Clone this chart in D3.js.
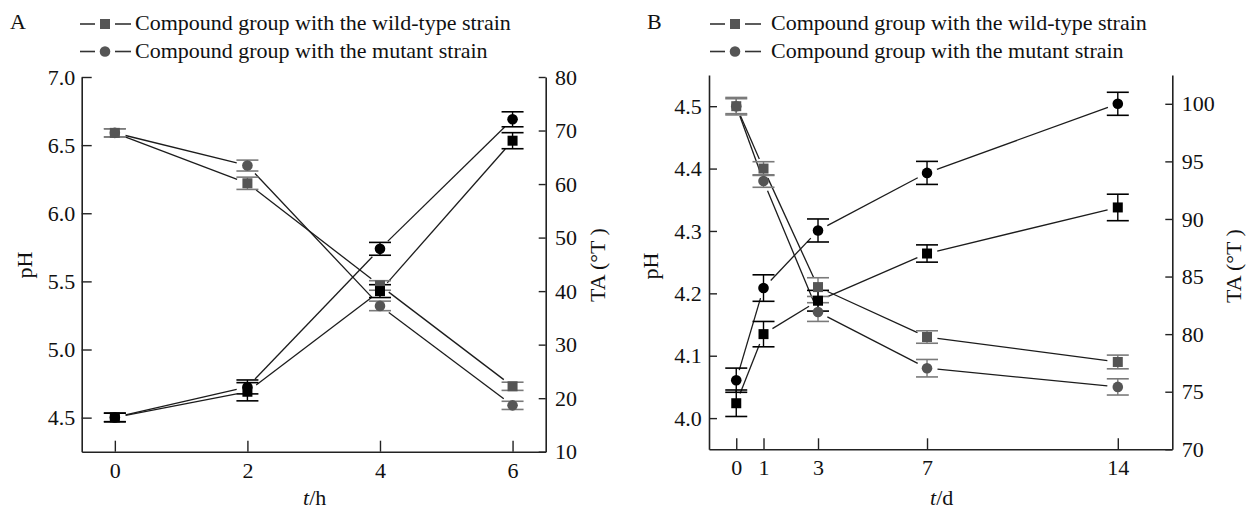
<!DOCTYPE html>
<html>
<head>
<meta charset="utf-8">
<script src="https://cdn.jsdelivr.net/npm/d3@7"></script>
<style>
  html, body { margin: 0; padding: 0; background: #fff; }
  svg { display: block; }
  text { font-family: "Liberation Serif", "Times New Roman", serif; fill: #111; }
</style>
</head>
<body>
<svg id="chart" width="1255" height="509"></svg>
<script>
// ---------- Data ----------
// Panel A: time in hours
const timesA = [0, 2, 4, 6];
const xTicksA = [0, 2, 4, 6];
const phTicksA = [4.5, 5.0, 5.5, 6.0, 6.5, 7.0];
const taTicksA = [10, 20, 30, 40, 50, 60, 70, 80];
const phWildA = [6.59, 6.22, 5.47, 4.73];
const phWildAErr = [0.03, 0.045, 0.035, 0.03];
const phMutA = [6.59, 6.35, 5.32, 4.59];
const phMutAErr = [0.03, 0.04, 0.035, 0.03];
const taWildA = [16.4, 21.2, 40.0, 68.1];
const taWildAErr = [0.8, 1.7, 1.2, 1.5];
const taMutA = [16.4, 22.1, 47.9, 72.1];
const taMutAErr = [0.8, 1.3, 1.2, 1.4];

// Panel B: time in days
const daysB = [0, 1, 3, 7, 14];
const xTicksB = [0, 1, 3, 7, 14];
const phTicksB = [4.0, 4.1, 4.2, 4.3, 4.4, 4.5];
const taTicksB = [70, 75, 80, 85, 90, 95, 100];
const phWildB = [4.50, 4.40, 4.21, 4.13, 4.09];
const phWildBErr = [0.014, 0.011, 0.015, 0.01, 0.011];
const phMutB = [4.50, 4.38, 4.17, 4.08, 4.05];
const phMutBErr = [0.012, 0.01, 0.015, 0.014, 0.013];
const taWildB = [74.0, 80.0, 82.9, 87.0, 91.0];
const taWildBErr = [1.15, 1.1, 0.9, 0.75, 1.15];
const taMutB = [76.0, 84.0, 89.0, 94.0, 100.0];
const taMutBErr = [1.05, 1.15, 1.0, 1.0, 1.0];

const legendLabels = ["Compound group with the wild-type strain", "Compound group with the mutant strain"];

// ---------- Styles ----------
const GRAY = "#555555";
const GRAY_ERR = "#7a7a7a";
const BLACK = "#000000";
const LINE = "#1c1c1c";
const AXIS = "#222222";
const FS = 22;

const svg = d3.select("#chart");
svg.append("rect").attr("width", 1255).attr("height", 509).attr("fill", "#fff");

function shortSeg(p, q, g) {
  const dx = q[0] - p[0], dy = q[1] - p[1];
  const L = Math.hypot(dx, dy);
  if (L <= 2 * g) return null;
  const ux = dx / L, uy = dy / L;
  return [[p[0] + ux * g, p[1] + uy * g], [q[0] - ux * g, q[1] - uy * g]];
}

function drawMarker(g, shape, cx, cy, color) {
  if (shape === "square") {
    g.append("rect").attr("x", cx - 5).attr("y", cy - 5).attr("width", 10).attr("height", 10).attr("fill", color);
  } else {
    g.append("circle").attr("cx", cx).attr("cy", cy).attr("r", 5.3).attr("fill", color);
  }
}

function drawPanel(cfg) {
  const g = svg.append("g");
  const x = d3.scaleLinear().domain(cfg.xDomain).range([cfg.left, cfg.right]);
  const yPh = d3.scaleLinear().domain(cfg.phDomain).range([cfg.bottom, cfg.top]);
  const yTa = d3.scaleLinear().domain(cfg.taDomain).range([cfg.bottom, cfg.top]);

  // axes
  const axL = d3.axisLeft(yPh).tickValues(cfg.phTicks).tickFormat(d3.format(".1f"))
    .tickSizeInner(-cfg.leftTick).tickSizeOuter(0).tickPadding(cfg.leftPad);
  const axR = d3.axisRight(yTa).tickValues(cfg.taTicks).tickFormat(d3.format("d"))
    .tickSizeInner(-cfg.rightTick).tickSizeOuter(0).tickPadding(cfg.rightPad);
  const axB = d3.axisBottom(x).tickValues(cfg.xTicks).tickFormat(d3.format("d"))
    .tickSizeInner(-11).tickSizeOuter(0).tickPadding(10.5);

  const styleAxis = sel => {
    sel.select(".domain").attr("stroke", AXIS).attr("stroke-width", 1.6);
    sel.selectAll(".tick line").attr("stroke", AXIS).attr("stroke-width", 1.4);
    sel.selectAll(".tick text").attr("font-size", FS).attr("fill", "#111")
      .style("font-family", "'Liberation Serif', 'Times New Roman', serif");
  };
  g.append("g").attr("transform", `translate(${cfg.left},0)`).call(axL).call(styleAxis);
  g.append("g").attr("transform", `translate(${cfg.right},0)`).call(axR).call(styleAxis);
  g.append("g").attr("transform", `translate(0,${cfg.bottom})`).call(axB).call(styleAxis);

  // series
  const series = cfg.series.map(s => ({
    ...s,
    pts: s.x.map((t, i) => [x(t), (s.axis === "ph" ? yPh : yTa)(s.y[i])]),
    errPx: s.x.map((t, i) => {
      const sc = s.axis === "ph" ? yPh : yTa;
      return [sc(s.y[i] - s.err[i]), sc(s.y[i] + s.err[i])];
    })
  }));

  // lines (with small gaps at symbols)
  series.forEach(s => {
    for (let i = 0; i < s.pts.length - 1; i++) {
      const sg = shortSeg(s.pts[i], s.pts[i + 1], cfg.gap);
      if (!sg) continue;
      g.append("line").attr("x1", sg[0][0]).attr("y1", sg[0][1]).attr("x2", sg[1][0]).attr("y2", sg[1][1])
        .attr("stroke", LINE).attr("stroke-width", 1.3);
    }
  });
  // error bars
  series.forEach(s => {
    const col = s.axis === "ph" ? GRAY_ERR : BLACK;
    s.pts.forEach((p, i) => {
      const [lo, hi] = s.errPx[i];
      g.append("line").attr("x1", p[0]).attr("x2", p[0]).attr("y1", lo).attr("y2", hi)
        .attr("stroke", col).attr("stroke-width", 1.4);
      [lo, hi].forEach(yy => g.append("line").attr("x1", p[0] - 11).attr("x2", p[0] + 11)
        .attr("y1", yy).attr("y2", yy).attr("stroke", col).attr("stroke-width", 1.6));
    });
  });
  // markers
  series.forEach(s => {
    const col = s.axis === "ph" ? GRAY : BLACK;
    s.pts.forEach(p => drawMarker(g, s.shape, p[0], p[1], col));
  });

  // axis titles
  g.append("text").attr("transform", `translate(${cfg.phLabelX},${cfg.labelY}) rotate(-90)`)
    .attr("text-anchor", "middle").attr("font-size", FS).text("pH");
  g.append("text").attr("transform", `translate(${cfg.taLabelX},${cfg.labelY}) rotate(-90)`)
    .attr("text-anchor", "middle").attr("font-size", FS).text("TA (\u00B0T )");
  const xt = g.append("text").attr("x", (cfg.left + cfg.right) / 2 + 1).attr("y", 505)
    .attr("text-anchor", "middle").attr("font-size", FS);
  xt.append("tspan").attr("font-style", "italic").text("t");
  xt.append("tspan").text("/" + cfg.xUnit);

  // panel letter
  g.append("text").attr("x", cfg.letterX).attr("y", 29).attr("font-size", FS).text(cfg.letter);

  // legend
  const shapes = ["square", "circle"];
  const rowsY = [30, 57.5];
  shapes.forEach((sh, i) => {
    const by = rowsY[i] - 6;
    const lx = cfg.legendX;
    g.append("line").attr("x1", lx).attr("x2", lx + 15).attr("y1", by).attr("y2", by)
      .attr("stroke", "#333").attr("stroke-width", 1.6);
    g.append("line").attr("x1", lx + 35).attr("x2", lx + 51).attr("y1", by).attr("y2", by)
      .attr("stroke", "#333").attr("stroke-width", 1.6);
    drawMarker(g, sh, lx + 25, by, GRAY);
    g.append("text").attr("x", lx + cfg.legendTextDx).attr("y", rowsY[i]).attr("font-size", FS).text(legendLabels[i]);
  });
}

drawPanel({
  letter: "A", letterX: 10, legendX: 80, legendTextDx: 55, xUnit: "h",
  left: 81.7, right: 545.7, top: 77, bottom: 451.7,
  xDomain: [-0.5, 6.5], phDomain: [4.25, 7.0], taDomain: [10, 80],
  xTicks: xTicksA, phTicks: phTicksA, taTicks: taTicksA,
  leftTick: 10, rightTick: 7, leftPad: 6.5, rightPad: 9.3,
  phLabelX: 31.5, taLabelX: 604.5, labelY: 265, gap: 11,
  series: [
    { axis: "ph", shape: "circle", x: timesA, y: phMutA, err: phMutAErr },
    { axis: "ph", shape: "square", x: timesA, y: phWildA, err: phWildAErr },
    { axis: "ta", shape: "circle", x: timesA, y: taMutA, err: taMutAErr },
    { axis: "ta", shape: "square", x: timesA, y: taWildA, err: taWildAErr }
  ]
});

drawPanel({
  letter: "B", letterX: 647, legendX: 710, legendTextDx: 61, xUnit: "d",
  left: 709, right: 1172.3, top: 75, bottom: 449.3,
  xDomain: [-1, 16], phDomain: [3.95, 4.55], taDomain: [70, 102.5],
  xTicks: xTicksB, phTicks: phTicksB, taTicks: taTicksB,
  leftTick: 8, rightTick: 7, leftPad: 7.3, rightPad: 9.4,
  phLabelX: 657.5, taLabelX: 1241.3, labelY: 266, gap: 10.5,
  series: [
    { axis: "ph", shape: "circle", x: daysB, y: phMutB, err: phMutBErr },
    { axis: "ph", shape: "square", x: daysB, y: phWildB, err: phWildBErr },
    { axis: "ta", shape: "circle", x: daysB, y: taMutB, err: taMutBErr },
    { axis: "ta", shape: "square", x: daysB, y: taWildB, err: taWildBErr }
  ]
});
</script>
</body>
</html>
